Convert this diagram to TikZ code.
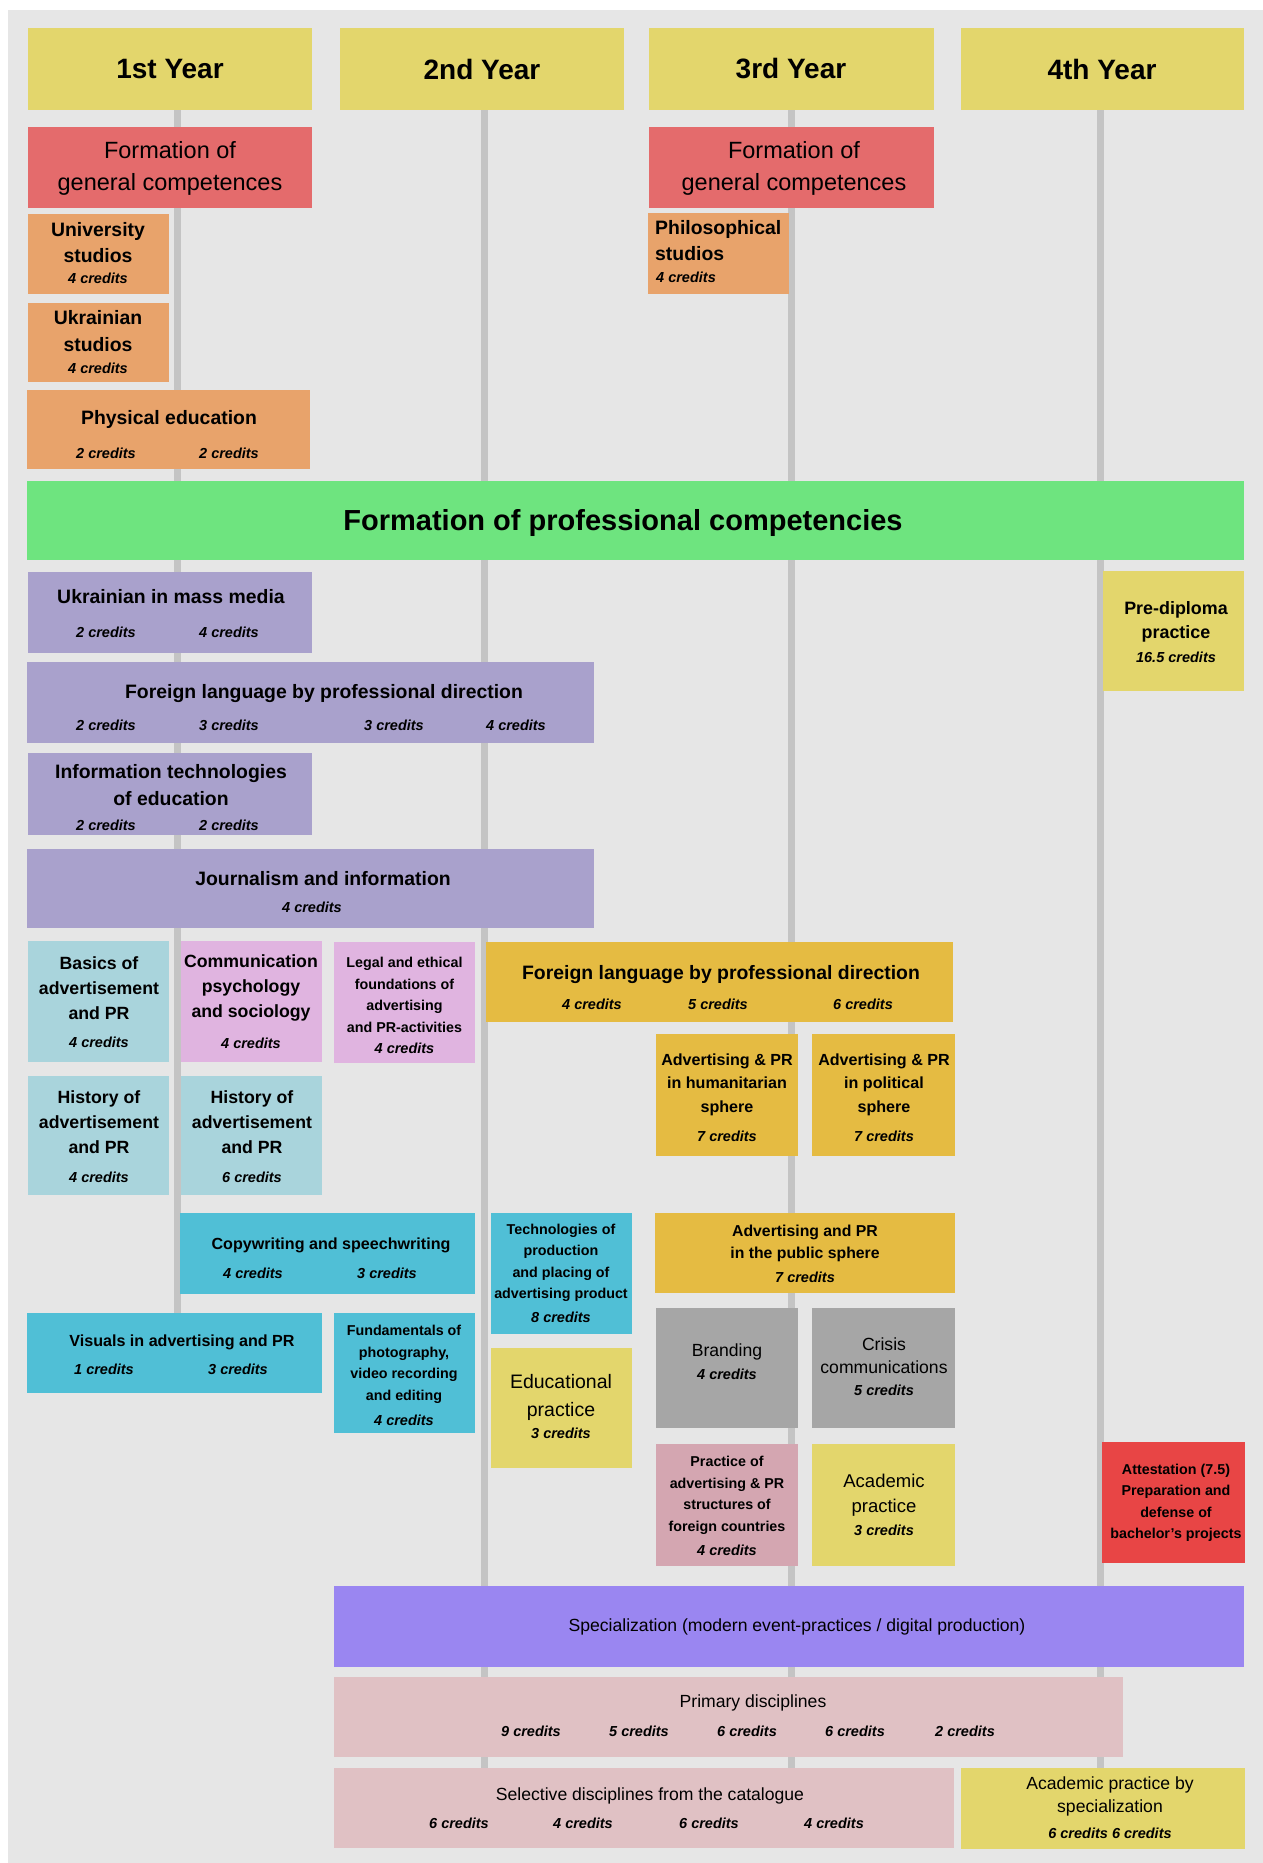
\documentclass[tikz,border=0pt]{standalone}
\usepackage{fontspec}
\setmainfont{Liberation Sans}

\definecolor{cBg}{HTML}{E6E6E6}
\definecolor{cLine}{HTML}{C4C4C4}
\definecolor{cYear}{HTML}{E3D66C}
\definecolor{cGen}{HTML}{E46B6C}
\definecolor{cOra}{HTML}{E8A36B}
\definecolor{cGreen}{HTML}{6EE47F}
\definecolor{cPur}{HTML}{A9A1CC}
\definecolor{cLbl}{HTML}{A9D4DC}
\definecolor{cPink}{HTML}{E0B4E0}
\definecolor{cGold}{HTML}{E5BB42}
\definecolor{cCyan}{HTML}{50BFD6}
\definecolor{cGrey}{HTML}{A6A6A6}
\definecolor{cDpk}{HTML}{D4A6B1}
\definecolor{cRed}{HTML}{E84545}
\definecolor{cVio}{HTML}{9A86F1}
\definecolor{cLpk}{HTML}{E0C1C4}

\begin{document}
\begin{tikzpicture}[x=1pt,y=1pt,yscale=-1,xscale=1,
  blk/.style={rectangle, inner sep=0pt, outer sep=0pt, anchor=north west},
  yrline/.style={draw=cLine, line width=7},
  yrtxt/.style={inner sep=0pt, font=\bfseries\fontsize{28}{34}\selectfont},
  gentxt/.style={align=center, inner sep=0pt, font=\fontsize{23.5}{32}\selectfont},
  ttl/.style={align=center, inner sep=0pt, font=\bfseries\fontsize{19.4}{26.5}\selectfont},
  ttlb/.style={align=center, inner sep=0pt, font=\bfseries\fontsize{17.7}{25}\selectfont},
  mid/.style={align=center, inner sep=0pt, font=\bfseries\fontsize{16.1}{23.5}\selectfont},
  sml/.style={align=center, inner sep=0pt, font=\bfseries\fontsize{14.3}{21.5}\selectfont},
  reg/.style={align=center, inner sep=0pt, font=\fontsize{17.6}{23}\selectfont},
  crd/.style={inner sep=0pt, font=\bfseries\itshape\fontsize{14.5}{17}\selectfont}]
\useasboundingbox (0,0) rectangle (1263,1863);

%Shape: Rectangle (sheet)
\fill [cBg] (8,10) rectangle (1263,1863);

%Shape: Year headers
\node [blk, fill=cYear, minimum width=284, minimum height=82] (yr1) at (28,28) {};
\node [blk, fill=cYear, minimum width=284, minimum height=82] (yr2) at (340,28) {};
\node [blk, fill=cYear, minimum width=285, minimum height=82] (yr3) at (649,28) {};
\node [blk, fill=cYear, minimum width=283, minimum height=82] (yr4) at (961,28) {};

%Straight Lines (year axes)
\coordinate (e1) at (177,1313);
\coordinate (e2) at (484,1768);
\coordinate (e3) at (791,1768);
\coordinate (e4) at (1100,1768);
\draw [yrline] (yr1.south -| e1) -- (e1);
\draw [yrline] (yr2.south -| e2) -- (e2);
\draw [yrline] (yr3.south -| e3) -- (e3);
\draw [yrline] (yr4.south -| e4) -- (e4);

%Shape: general competences
\node [blk, fill=cGen, minimum width=284, minimum height=81] (gc1) at (28,127) {};
\node [blk, fill=cGen, minimum width=285, minimum height=81] (gc3) at (649,127) {};
\node [blk, fill=cOra, minimum width=141, minimum height=80] (us) at (28,214) {};
\node [blk, fill=cOra, minimum width=141, minimum height=79] (uks) at (28,303) {};
\node [blk, fill=cOra, minimum width=283, minimum height=79] (pe) at (27,390) {};
\node [blk, fill=cOra, minimum width=141, minimum height=81] (ps) at (648,213) {};

%Shape: professional competencies
\node [blk, fill=cGreen, minimum width=1217, minimum height=79] (gr) at (27,481) {};
\node [blk, fill=cPur, minimum width=284, minimum height=81] (umm) at (28,572) {};
\node [blk, fill=cPur, minimum width=567, minimum height=81] (fl1) at (27,662) {};
\node [blk, fill=cPur, minimum width=284, minimum height=82] (ite) at (28,753) {};
\node [blk, fill=cPur, minimum width=567, minimum height=79] (ji) at (27,849) {};
\node [blk, fill=cYear, minimum width=141, minimum height=120] (pd) at (1103,571) {};

\node [blk, fill=cLbl, minimum width=141, minimum height=121] (bap) at (28,941) {};
\node [blk, fill=cPink, minimum width=141, minimum height=121] (cps) at (181,941) {};
\node [blk, fill=cPink, minimum width=141, minimum height=121] (lef) at (334,942) {};
\node [blk, fill=cGold, minimum width=467, minimum height=80] (fl2) at (486,942) {};
\node [blk, fill=cLbl, minimum width=141, minimum height=119] (ha1) at (28,1076) {};
\node [blk, fill=cLbl, minimum width=141, minimum height=119] (ha2) at (181,1076) {};
\node [blk, fill=cGold, minimum width=142, minimum height=122] (aph) at (656,1034) {};
\node [blk, fill=cGold, minimum width=143, minimum height=122] (app) at (812,1034) {};

\node [blk, fill=cCyan, minimum width=295, minimum height=81] (cs) at (180,1213) {};
\node [blk, fill=cCyan, minimum width=141, minimum height=121] (tpp) at (491,1213) {};
\node [blk, fill=cGold, minimum width=300, minimum height=80] (aps) at (655,1213) {};
\node [blk, fill=cCyan, minimum width=295, minimum height=80] (vap) at (27,1313) {};
\node [blk, fill=cCyan, minimum width=141, minimum height=120] (fpv) at (334,1313) {};
\node [blk, fill=cYear, minimum width=141, minimum height=120] (ep) at (491,1348) {};
\node [blk, fill=cGrey, minimum width=142, minimum height=120] (br) at (656,1308) {};
\node [blk, fill=cGrey, minimum width=143, minimum height=120] (cc) at (812,1308) {};
\node [blk, fill=cDpk, minimum width=142, minimum height=122] (pap) at (656,1444) {};
\node [blk, fill=cYear, minimum width=143, minimum height=122] (ap) at (812,1444) {};
\node [blk, fill=cRed, minimum width=143, minimum height=121] (att) at (1102,1442) {};

%Shape: specialization
\node [blk, fill=cVio, minimum width=910, minimum height=81] (sp) at (334,1586) {};
\node [blk, fill=cLpk, minimum width=789, minimum height=80] (prim) at (334,1677) {};
\node [blk, fill=cLpk, minimum width=620, minimum height=80] (sd) at (334,1768) {};
\node [blk, fill=cYear, minimum width=284, minimum height=81] (aps2) at (961,1768) {};

% Text Node
\node [yrtxt] (yr1t) at (170,69) {1st Year};
\node [yrtxt] (yr2t) at (482,69) {2nd Year};
\node [yrtxt] (yr3t) at (791,69) {3rd Year};
\node [yrtxt] (yr4t) at (1102,69) {4th Year};
\node [gentxt] (gc1t) at (170,168) {Formation of\\general competences};
\node [gentxt] (gc3t) at (794,168) {Formation of\\general competences};
\node [ttl] (ust) at (98,242.5) {University\\studios};
\node [crd] (usc) at (98,278) {4 credits};
\node [ttl] (ukst) at (98,331) {Ukrainian\\studios};
\node [crd] (uksc) at (98,368) {4 credits};
\node [ttl] (pet) at (169,419) {Physical education};
\node [crd] (pec1) at (106,453) {2 credits};
\node [crd] (pec2) at (229,453) {2 credits};
\node [ttl, align=left, anchor=west] (pst) at (655,240.5) {Philosophical\\studios};
\node [crd, anchor=west] (psc) at (656,277) {4 credits};

% Text Node
\node [inner sep=0pt, font=\bfseries\fontsize{29}{34}\selectfont] (grt) at (623,523) {Formation of professional competencies};
\node [ttl] (ummt) at (171,597) {Ukrainian in mass media};
\node [crd] (ummc1) at (106,632) {2 credits};
\node [crd] (ummc2) at (229,632) {4 credits};
\node [ttl] (fl1t) at (324,694) {Foreign language by professional direction};
\node [crd] (fl1c1) at (106,725) {2 credits};
\node [crd] (fl1c2) at (229,725) {3 credits};
\node [crd] (fl1c3) at (394,725) {3 credits};
\node [crd] (fl1c4) at (516,725) {4 credits};
\node [ttl] (itet) at (171,785) {Information technologies\\of education};
\node [crd] (itec1) at (106,825) {2 credits};
\node [crd] (itec2) at (229,825) {2 credits};
\node [ttl] (jit) at (323,879) {Journalism and information};
\node [crd] (jic) at (312,907) {4 credits};
\node [ttlb, font=\bfseries\fontsize{17.9}{24}\selectfont] (pdt) at (1176,622) {Pre-diploma\\practice};
\node [crd] (pdc) at (1176,657) {16.5 credits};

% Text Node
\node [ttlb] (bapt) at (99,988) {Basics of\\advertisement\\and PR};
\node [crd] (bapc) at (99,1042) {4 credits};
\node [ttlb] (cpst) at (251,988) {Communication\\psychology\\and sociology};
\node [crd] (cpsc) at (251,1043) {4 credits};
\node [sml] (left) at (404.5,995) {Legal and ethical\\foundations of\\advertising\\and PR-activities};
\node [crd] (lefc) at (404.5,1048) {4 credits};
\node [ttl] (fl2t) at (721,975) {Foreign language by professional direction};
\node [crd] (fl2c1) at (592,1004) {4 credits};
\node [crd] (fl2c2) at (718,1004) {5 credits};
\node [crd] (fl2c3) at (863,1004) {6 credits};
\node [ttlb] (ha1t) at (99,1122.5) {History of\\advertisement\\and PR};
\node [crd] (ha1c) at (99,1177) {4 credits};
\node [ttlb] (ha2t) at (252,1122.5) {History of\\advertisement\\and PR};
\node [crd] (ha2c) at (252,1177) {6 credits};
\node [mid] (apht) at (727,1084.5) {Advertising \& PR\\in humanitarian\\sphere};
\node [crd] (aphc) at (727,1136) {7 credits};
\node [mid] (appt) at (884,1084.5) {Advertising \& PR\\in political\\sphere};
\node [crd] (appc) at (884,1136) {7 credits};

% Text Node
\node [mid] (cst) at (331,1245) {Copywriting and speechwriting};
\node [crd] (csc1) at (253,1273) {4 credits};
\node [crd] (csc2) at (387,1273) {3 credits};
\node [sml] (tppt) at (561,1263) {Technologies of\\production\\and placing of\\advertising product};
\node [crd] (tppc) at (561,1317) {8 credits};
\node [mid, font=\bfseries\fontsize{15.8}{22}\selectfont] (apst) at (805,1243) {Advertising and PR\\in the public sphere};
\node [crd] (apsc) at (805,1277) {7 credits};
\node [mid] (vapt) at (182,1342) {Visuals in advertising and PR};
\node [crd] (vapc1) at (104,1369) {1 credits};
\node [crd] (vapc2) at (238,1369) {3 credits};
\node [sml] (fpvt) at (404,1364.5) {Fundamentals of\\photography,\\video recording\\and editing};
\node [crd] (fpvc) at (404,1420) {4 credits};
\node [reg, font=\fontsize{19.5}{28}\selectfont] (ept) at (561,1397) {Educational\\practice};
\node [crd] (epc) at (561,1433) {3 credits};
\node [reg] (brt) at (727,1352) {Branding};
\node [crd] (brc) at (727,1374) {4 credits};
\node [reg] (cct) at (884,1355.5) {Crisis\\communications};
\node [crd] (ccc) at (884,1390) {5 credits};
\node [sml] (papt) at (727,1495.5) {Practice of\\advertising \& PR\\structures of\\foreign countries};
\node [crd] (papc) at (727,1550) {4 credits};
\node [reg, font=\fontsize{18.5}{25}\selectfont] (apt) at (884,1495.5) {Academic\\practice};
\node [crd] (apc) at (884,1530) {3 credits};
\node [sml] (attt) at (1176,1503) {Attestation (7.5)\\Preparation and\\defense of\\bachelor’s projects};

% Text Node
\node [reg] (spt) at (797,1627) {Specialization (modern event-practices / digital production)};
\node [reg] (primt) at (753,1703) {Primary disciplines};
\node [crd] (primc1) at (531,1731) {9 credits};
\node [crd] (primc2) at (639,1731) {5 credits};
\node [crd] (primc3) at (747,1731) {6 credits};
\node [crd] (primc4) at (855,1731) {6 credits};
\node [crd] (primc5) at (965,1731) {2 credits};
\node [reg] (sdt) at (650,1796) {Selective disciplines from the catalogue};
\node [crd] (sdc1) at (459,1823) {6 credits};
\node [crd] (sdc2) at (583,1823) {4 credits};
\node [crd] (sdc3) at (709,1823) {6 credits};
\node [crd] (sdc4) at (834,1823) {4 credits};
\node [reg] (aps2t) at (1110,1796.5) {Academic practice by\\specialization};
\node [crd] (aps2c) at (1110,1833) {6 credits 6 credits};

\end{tikzpicture}
\end{document}
